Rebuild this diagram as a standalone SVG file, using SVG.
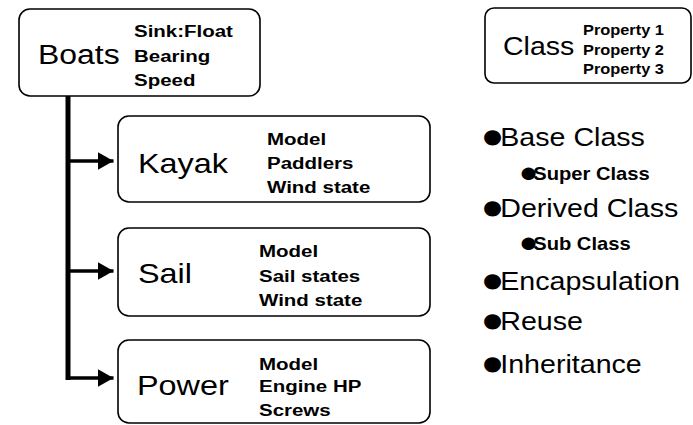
<svg xmlns="http://www.w3.org/2000/svg" width="693" height="425" viewBox="0 0 693 425">
<style>
.box{fill:#fff;stroke:#000;stroke-width:1.6}
.big{font-family:"Liberation Sans",Arial,sans-serif;font-size:27px;fill:#000}
.prop{font-family:"Liberation Sans",Arial,sans-serif;font-size:16px;font-weight:bold;fill:#000}
.pr{font-family:"Liberation Sans",Arial,sans-serif;font-size:14px;font-weight:bold;fill:#000}
.bul{font-family:"Liberation Sans",Arial,sans-serif;font-size:26px;fill:#000}
.sub{font-family:"Liberation Sans",Arial,sans-serif;font-size:18px;font-weight:bold;fill:#000}
.bd{font-size:35.5px;letter-spacing:-5px}
.sd{font-size:29px;letter-spacing:-5px}
</style>
<defs>
<marker id="ah" markerUnits="userSpaceOnUse" markerWidth="16" markerHeight="18" refX="16" refY="9" orient="auto">
<polygon points="0,0 16,9 0,18" fill="#000"/>
</marker>
</defs>
<rect width="693" height="425" fill="#fff"/>
<g id="connectors">
<path d="M68 96 V380" stroke="#000" stroke-width="5" fill="none"/>
<path d="M68 161 H113.5" stroke="#000" stroke-width="3.5" fill="none" marker-end="url(#ah)"/>
<path d="M68 271 H113.5" stroke="#000" stroke-width="3.5" fill="none" marker-end="url(#ah)"/>
<path d="M66 378 H113.5" stroke="#000" stroke-width="3.5" fill="none" marker-end="url(#ah)"/>
</g>
<g id="boats">
<rect class="box" x="19" y="9" width="241" height="87" rx="11"/>
<text class="big" style="font-size:28px" transform="translate(38 64) scale(1.14 1)">Boats</text>
<g transform="translate(134 0) scale(1.28 1)">
<text class="prop" y="37">Sink:Float</text>
<text class="prop" y="62">Bearing</text>
<text class="prop" y="86.5">Speed</text>
</g>
</g>
<g id="kayak">
<rect class="box" x="118" y="116" width="312" height="86" rx="11"/>
<text class="big" transform="translate(138 173) scale(1.2 1)">Kayak</text>
<g transform="translate(267 0) scale(1.28 1)">
<text class="prop" y="145">Model</text>
<text class="prop" y="169">Paddlers</text>
<text class="prop" y="193">Wind state</text>
</g>
</g>
<g id="sail">
<rect class="box" x="118" y="228" width="312" height="88" rx="11"/>
<text class="big" transform="translate(138 283) scale(1.2 1)">Sail</text>
<g transform="translate(259 0) scale(1.28 1)">
<text class="prop" y="257">Model</text>
<text class="prop" y="282">Sail states</text>
<text class="prop" y="306.5">Wind state</text>
</g>
</g>
<g id="power">
<rect class="box" x="118" y="340" width="312" height="83" rx="11"/>
<text class="big" transform="translate(137 395) scale(1.2 1)">Power</text>
<g transform="translate(259 0) scale(1.28 1)">
<text class="prop" y="370">Model</text>
<text class="prop" y="392">Engine HP</text>
<text class="prop" y="416.5">Screws</text>
</g>
</g>
<g id="class-legend">
<rect class="box" x="485" y="8" width="206" height="75" rx="9"/>
<text class="big" style="font-size:25px" transform="translate(503 55) scale(1.14 1)">Class</text>
<g transform="translate(583 0) scale(1.17 1)">
<text class="pr" y="35">Property 1</text>
<text class="pr" y="55">Property 2</text>
<text class="pr" y="74">Property 3</text>
</g>
</g>
<g id="bullets">
<text class="bul" transform="translate(483 146) scale(1.1 1)"><tspan class="bd" x="-2" dy="1.5">●</tspan><tspan x="15.7" dy="-1.5">Base Class</tspan></text>
<text class="sub" transform="translate(521 179.5) scale(1.12 1)"><tspan class="sd" x="-2" dy="2">●</tspan><tspan x="10.9" dy="-2">Super Class</tspan></text>
<text class="bul" transform="translate(483 217) scale(1.1 1)"><tspan class="bd" x="-2" dy="1.5">●</tspan><tspan x="15.7" dy="-1.5">Derived Class</tspan></text>
<text class="sub" transform="translate(521 249.5) scale(1.12 1)"><tspan class="sd" x="-2" dy="2">●</tspan><tspan x="10.9" dy="-2">Sub Class</tspan></text>
<text class="bul" transform="translate(483 290) scale(1.1 1)"><tspan class="bd" x="-2" dy="1.5">●</tspan><tspan x="15.7" dy="-1.5">Encapsulation</tspan></text>
<text class="bul" transform="translate(483 330) scale(1.1 1)"><tspan class="bd" x="-2" dy="1.5">●</tspan><tspan x="15.7" dy="-1.5">Reuse</tspan></text>
<text class="bul" transform="translate(483 373) scale(1.1 1)"><tspan class="bd" x="-2" dy="1.5">●</tspan><tspan x="15.7" dy="-1.5">Inheritance</tspan></text>
</g>
</svg>
